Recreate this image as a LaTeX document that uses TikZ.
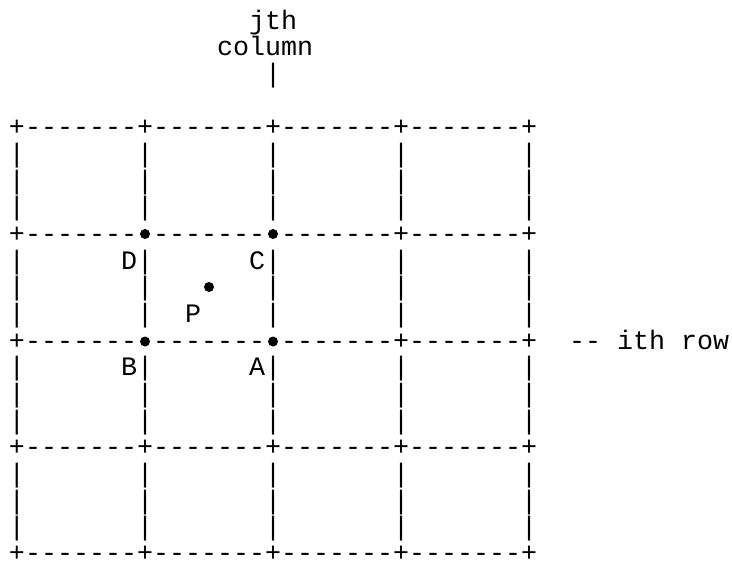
\documentclass[tikz,border=0pt]{standalone}
\usepackage{fontspec}
\newfontfamily\asciimono{Liberation Mono}
\tikzset{
  asciirow/.style={anchor=base west, inner sep=0pt, outer sep=0pt,
    font=\asciimono\fontsize{26.67}{26.67}\selectfont},
  gridpt/.style={circle, fill=black, inner sep=0pt, minimum size=10pt}
}
\begin{document}
\begin{tikzpicture}[x=1pt,y=-1pt]
\useasboundingbox (0,0) rectangle (732,562);
% column c left edge: 9 + 16 c ; line n baseline: 29 + 26.67 n
\node[asciirow] (l0) at (249,29) {jth};
\node[asciirow] (l1) at (217,55.67) {column};
\node[asciirow] (l2) at (265,82.33) {|};
\node[asciirow] (l4) at (9,135.67) {+-------+-------+-------+-------+};
\node[asciirow] (l5) at (9,162.33) {|~~~~~~~|~~~~~~~|~~~~~~~|~~~~~~~|};
\node[asciirow] (l6) at (9,189) {|~~~~~~~|~~~~~~~|~~~~~~~|~~~~~~~|};
\node[asciirow] (l7) at (9,215.67) {|~~~~~~~|~~~~~~~|~~~~~~~|~~~~~~~|};
\node[asciirow] (l8) at (9,242.33) {+-------~-------~-------+-------+};
\node[asciirow] (l9) at (9,269) {|~~~~~~D|~~~~~~C|~~~~~~~|~~~~~~~|};
\node[asciirow] (l10) at (9,295.67) {|~~~~~~~|~~~~~~~|~~~~~~~|~~~~~~~|};
\node[asciirow] (l11) at (9,322.33) {|~~~~~~~|~~P~~~~|~~~~~~~|~~~~~~~|};
\node[asciirow] (l12) at (9,349) {+-------~-------~-------+-------+~~--~ith~row};
\node[asciirow] (l13) at (9,375.67) {|~~~~~~B|~~~~~~A|~~~~~~~|~~~~~~~|};
\node[asciirow] (l14) at (9,402.33) {|~~~~~~~|~~~~~~~|~~~~~~~|~~~~~~~|};
\node[asciirow] (l15) at (9,429) {|~~~~~~~|~~~~~~~|~~~~~~~|~~~~~~~|};
\node[asciirow] (l16) at (9,455.67) {+-------+-------+-------+-------+};
\node[asciirow] (l17) at (9,482.33) {|~~~~~~~|~~~~~~~|~~~~~~~|~~~~~~~|};
\node[asciirow] (l18) at (9,509) {|~~~~~~~|~~~~~~~|~~~~~~~|~~~~~~~|};
\node[asciirow] (l19) at (9,535.67) {|~~~~~~~|~~~~~~~|~~~~~~~|~~~~~~~|};
\node[asciirow] (l20) at (9,561) {+-------+-------+-------+-------+};
% points
\node[gridpt] (D) at (145,234) {};
\node[gridpt] (C) at (273,234) {};
\node[gridpt] (P) at (209,287) {};
\node[gridpt] (B) at (145,341.5) {};
\node[gridpt] (A) at (273,341.5) {};
\end{tikzpicture}
\end{document}
